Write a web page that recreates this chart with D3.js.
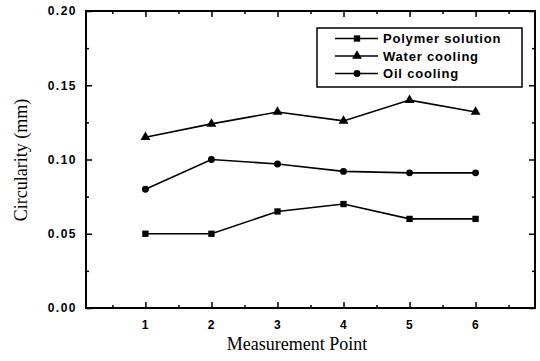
<!DOCTYPE html>
<html>
<head>
<meta charset="utf-8">
<script src="https://cdn.jsdelivr.net/npm/d3@7"></script>
<style>
  body { margin: 0; background: #fff; }
  svg { display: block; }
  .tick text { font-family: "Liberation Sans", Arial, sans-serif; font-weight: bold; font-size: 12px; letter-spacing: 1.5px; fill: #000; }
  .domain { display: none; }
  .tick line { stroke: #000; stroke-width: 1.5px; }
</style>
</head>
<body>
<svg width="540" height="361"></svg>
<script>
var points = [1, 2, 3, 4, 5, 6];
var polymer = [0.050, 0.050, 0.065, 0.070, 0.060, 0.060];
var water = [0.115, 0.124, 0.132, 0.126, 0.140, 0.132];
var oil = [0.080, 0.100, 0.097, 0.092, 0.091, 0.091];
var yTicks = [0.00, 0.05, 0.10, 0.15, 0.20];
var seriesNames = ["Polymer solution", "Water cooling", "Oil cooling"];

var margin = {left: 86, top: 11, right: 535, bottom: 308};

var svg = d3.select("svg");

var x = d3.scaleLinear().domain([0.1, 6.9]).range([margin.left, margin.right]);
var y = d3.scaleLinear().domain([0, 0.2]).range([margin.bottom, margin.top]);

// frame
svg.append("rect")
  .attr("x", margin.left)
  .attr("y", margin.top)
  .attr("width", margin.right - margin.left)
  .attr("height", margin.bottom - margin.top)
  .attr("fill", "none")
  .attr("stroke", "#000")
  .attr("stroke-width", 2);

var xMinor = d3.range(0.5, 7, 1);
var yMinor = [0.025, 0.075, 0.125, 0.175];

// bottom axis
svg.append("g")
  .attr("transform", "translate(0," + margin.bottom + ")")
  .call(d3.axisBottom(x).tickValues(points).tickSize(-6).tickPadding(12).tickFormat(d3.format("d")));
svg.append("g")
  .attr("transform", "translate(0," + margin.bottom + ")")
  .call(d3.axisBottom(x).tickValues(xMinor).tickSize(-3).tickFormat(""));
// top axis
svg.append("g")
  .attr("transform", "translate(0," + margin.top + ")")
  .call(d3.axisTop(x).tickValues(points).tickSize(-6).tickFormat(""));
svg.append("g")
  .attr("transform", "translate(0," + margin.top + ")")
  .call(d3.axisTop(x).tickValues(xMinor).tickSize(-3).tickFormat(""));
// left axis
svg.append("g")
  .attr("transform", "translate(" + margin.left + ",0)")
  .call(d3.axisLeft(y).tickValues(yTicks).tickSize(-6).tickPadding(9).tickFormat(d3.format(".2f")));
svg.append("g")
  .attr("transform", "translate(" + margin.left + ",0)")
  .call(d3.axisLeft(y).tickValues(yMinor).tickSize(-3).tickFormat(""));
// right axis
svg.append("g")
  .attr("transform", "translate(" + margin.right + ",0)")
  .call(d3.axisRight(y).tickValues(yTicks).tickSize(-6).tickFormat(""));
svg.append("g")
  .attr("transform", "translate(" + margin.right + ",0)")
  .call(d3.axisRight(y).tickValues(yMinor).tickSize(-3).tickFormat(""));

// axis titles
svg.append("text")
  .attr("x", 297)
  .attr("y", 350)
  .attr("text-anchor", "middle")
  .style("font-family", "'Liberation Serif', 'Times New Roman', serif")
  .style("font-size", "18px")
  .text("Measurement Point");

svg.append("text")
  .attr("transform", "translate(27,160) rotate(-90)")
  .attr("text-anchor", "middle")
  .style("font-family", "'Liberation Serif', 'Times New Roman', serif")
  .style("font-size", "18px")
  .text("Circularity (mm)");

// series
var series = [
  {name: seriesNames[0], values: polymer, symbol: d3.symbolSquare, size: 40},
  {name: seriesNames[1], values: water, symbol: d3.symbolTriangle, size: 42},
  {name: seriesNames[2], values: oil, symbol: d3.symbolCircle, size: 38}
];

var line = d3.line()
  .x(function(d, i) { return x(points[i]); })
  .y(function(d) { return y(d); });

series.forEach(function(s) {
  var g = svg.append("g").attr("class", "series");
  g.append("path")
    .attr("d", line(s.values))
    .attr("fill", "none")
    .attr("stroke", "#000")
    .attr("stroke-width", 1.6);
  g.selectAll("path.mark")
    .data(s.values)
    .enter()
    .append("path")
    .attr("class", "mark")
    .attr("d", d3.symbol().type(s.symbol).size(s.size))
    .attr("transform", function(d, i) { return "translate(" + x(points[i]) + "," + y(d) + ")"; })
    .attr("fill", "#000");
});

// legend
var legend = svg.append("g").attr("class", "legend");
legend.append("rect")
  .attr("x", 317)
  .attr("y", 28)
  .attr("width", 205)
  .attr("height", 59)
  .attr("fill", "#fff")
  .attr("stroke", "#000")
  .attr("stroke-width", 1.5);

series.forEach(function(s, i) {
  var ly = 38.5 + i * 17.5;
  legend.append("line")
    .attr("x1", 335).attr("x2", 378)
    .attr("y1", ly).attr("y2", ly)
    .attr("stroke", "#000")
    .attr("stroke-width", 1.6);
  legend.append("path")
    .attr("d", d3.symbol().type(s.symbol).size(s.size))
    .attr("transform", "translate(357," + ly + ")")
    .attr("fill", "#000");
  legend.append("text")
    .attr("x", 383)
    .attr("y", ly + 4.5)
    .style("font-family", "'Liberation Sans', Arial, sans-serif")
    .style("font-weight", "bold")
    .style("font-size", "13px")
    .style("letter-spacing", "0.8px")
    .text(s.name);
});
</script>
</body>
</html>
